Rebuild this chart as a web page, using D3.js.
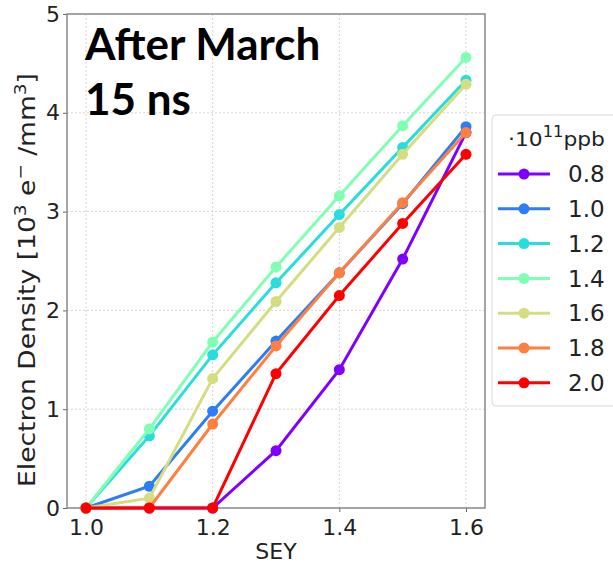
<!DOCTYPE html>
<html>
<head>
<meta charset="utf-8">
<script src="https://cdn.jsdelivr.net/npm/d3@7"></script>
<style>
  body { margin: 0; background: #fff; }
  svg { display: block; font-family: "DejaVu Sans", sans-serif; }
</style>
</head>
<body>
<svg id="chart" width="613" height="565"></svg>
<script>
const sey = [1.0, 1.1, 1.2, 1.3, 1.4, 1.5, 1.6];
const bunches = ["0.8", "1.0", "1.2", "1.4", "1.6", "1.8", "2.0"];
const s08 = [0, 0, 0, 0.58, 1.40, 2.52, 3.80];
const s10 = [0, 0.22, 0.98, 1.69, 2.38, 3.08, 3.86];
const s12 = [0, 0.73, 1.55, 2.28, 2.97, 3.65, 4.33];
const s14 = [0, 0.80, 1.68, 2.44, 3.16, 3.87, 4.56];
const s16 = [0, 0.10, 1.31, 2.09, 2.84, 3.58, 4.29];
const s18 = [0, 0, 0.85, 1.64, 2.38, 3.09, 3.80];
const s20 = [0, 0, 0, 1.36, 2.15, 2.88, 3.58];
const xTicks = [1.0, 1.2, 1.4, 1.6];
const yTicks = [0, 1, 2, 3, 4, 5];
const colors = ["#8000ff", "#2c7ef7", "#2adddd", "#80ffb4", "#d4dd80", "#ff7f41", "#ff0000"];

const series = [s08, s10, s12, s14, s16, s18, s20].map((v, i) => ({
    name: bunches[i],
    color: colors[i],
    points: v.map((y, j) => ({ x: sey[j], y }))
}));

const svg = d3.select("#chart");
const margin = { left: 67, right: 128, top: 14, bottom: 57 };
const width = 613 - margin.left - margin.right;
const height = 565 - margin.top - margin.bottom;

const x = d3.scaleLinear().domain([0.97, 1.63]).range([0, width]);
const y = d3.scaleLinear().domain([0, 5]).range([height, 0]);

const g = svg.append("g").attr("transform", `translate(${margin.left},${margin.top})`);

// grid
g.append("g").selectAll("line").data(xTicks).enter().append("line")
    .attr("x1", d => x(d)).attr("x2", d => x(d))
    .attr("y1", 0).attr("y2", height)
    .attr("stroke", "#c8c8c8").attr("stroke-width", 0.8).attr("stroke-dasharray", "2,2");
g.append("g").selectAll("line").data(yTicks).enter().append("line")
    .attr("x1", 0).attr("x2", width)
    .attr("y1", d => y(d)).attr("y2", d => y(d))
    .attr("stroke", "#c8c8c8").attr("stroke-width", 0.8).attr("stroke-dasharray", "2,2");

// axes
const xAxis = g.append("g").attr("transform", `translate(0,${height})`)
    .call(d3.axisBottom(x).tickValues(xTicks).tickFormat(d3.format(".1f")).tickSize(4).tickPadding(4));
const yAxis = g.append("g")
    .call(d3.axisLeft(y).tickValues(yTicks).tickFormat(d3.format("d")).tickSize(4).tickPadding(3));
[xAxis, yAxis].forEach(a => {
    a.select(".domain").remove();
    a.selectAll("line").attr("stroke", "#666");
    a.selectAll("text").attr("font-size", 22).attr("fill", "#222")
        .attr("font-family", "DejaVu Sans, sans-serif");
});
xAxis.selectAll("text").attr("dy", "0.86em");

// frame
g.append("rect").attr("width", width).attr("height", height)
    .attr("fill", "none").attr("stroke", "#8a8a8a").attr("stroke-width", 1.5);

// lines
const line = d3.line().x(d => x(d.x)).y(d => y(d.y));
const sg = g.append("g").selectAll("g").data(series).enter().append("g");
sg.append("path").attr("d", d => line(d.points))
    .attr("fill", "none").attr("stroke", d => d.color).attr("stroke-width", 3);
sg.selectAll("circle").data(d => d.points.map(p => ({ ...p, color: d.color }))).enter()
    .append("circle")
    .attr("cx", d => x(d.x)).attr("cy", d => y(d.y)).attr("r", 5.5)
    .attr("fill", d => d.color);

// annotation
const ann = g.append("text").attr("font-family", "Lato, sans-serif").attr("font-weight", "bold")
    .attr("font-size", 44).attr("fill", "#000");
ann.append("tspan").attr("x", 18).attr("y", 46).text("After March");
ann.append("tspan").attr("x", 18).attr("y", 101).text("15 ns");

// axis labels
svg.append("text").attr("x", margin.left + x(1.3)).attr("y", 559)
    .attr("text-anchor", "middle").attr("font-size", 22).attr("fill", "#222").text("SEY");

const yl = svg.append("text")
    .attr("text-anchor", "middle").attr("font-size", 23).attr("fill", "#222");
yl.append("tspan").text("Electron Density [10");
yl.append("tspan").attr("font-size", 16).attr("dy", -9).text("3");
yl.append("tspan").attr("dy", 9).text(" e");
yl.append("tspan").attr("font-size", 16).attr("dy", -9).text("\u2212");
yl.append("tspan").attr("dy", 9).text(" /mm");
yl.append("tspan").attr("font-size", 16).attr("dy", -9).text("3");
yl.append("tspan").attr("dy", 9).text("]");
const ylw = yl.node().getBBox().width;
yl.attr("transform", `translate(35,280) rotate(-90) scale(${414 / ylw},1)`);

// legend
const lg = svg.append("g").attr("transform", "translate(492,115)");
lg.append("rect").attr("width", 135).attr("height", 291).attr("rx", 4)
    .attr("fill", "#fff").attr("stroke", "#d9d9d9").attr("stroke-width", 1);
const lt = lg.append("text").attr("font-size", 20).attr("fill", "#222");
lt.append("tspan").text("\u00b710");
lt.append("tspan").attr("font-size", 15).attr("dy", -9).text("11");
lt.append("tspan").attr("dy", 9).text("ppb");
const ltb = lt.node().getBBox();
lt.attr("transform", `translate(${16 - ltb.x * 97 / ltb.width},31) scale(${97 / ltb.width},1)`);
const items = lg.selectAll("g.item").data(series).enter().append("g")
    .attr("transform", (d, i) => `translate(0,${59 + i * 34.8})`);
items.append("line").attr("x1", 6).attr("x2", 58)
    .attr("stroke", d => d.color).attr("stroke-width", 3);
items.append("circle").attr("cx", 32).attr("r", 5.5).attr("fill", d => d.color);
items.append("text").attr("x", 76).attr("dy", "0.36em").attr("font-size", 23)
    .attr("fill", "#222").text(d => d.name);
</script>
</body>
</html>
